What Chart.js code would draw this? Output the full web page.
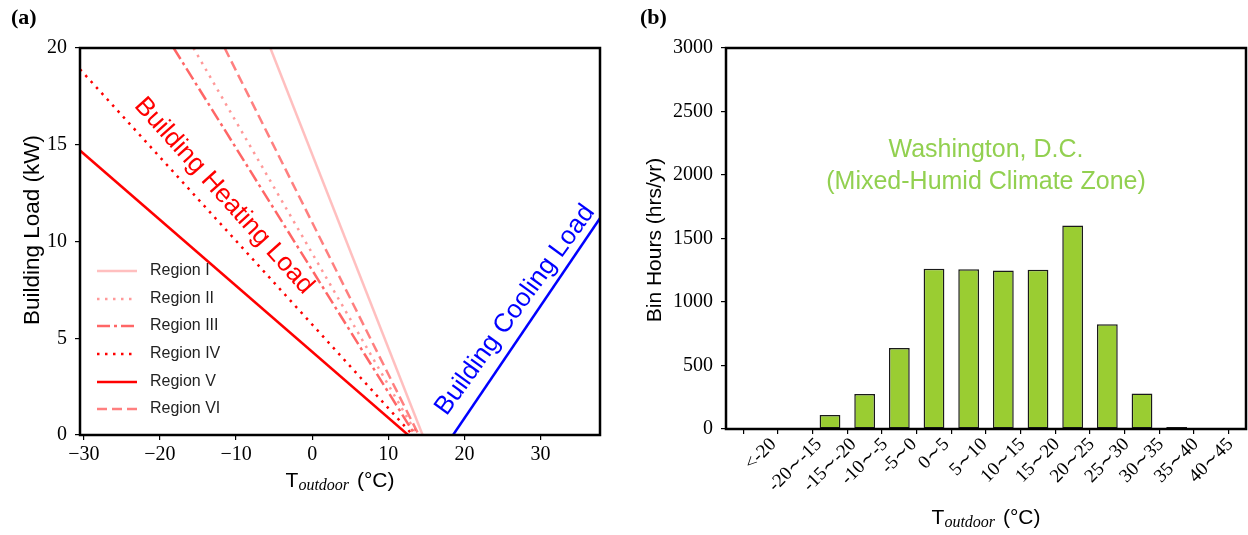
<!DOCTYPE html>
<html>
<head>
<meta charset="utf-8">
<script src="https://cdn.jsdelivr.net/npm/chart.js@4.4.1/dist/chart.umd.min.js"></script>
<style>
html,body{margin:0;padding:0;background:#fff;}
#wrap{position:relative;width:1248px;height:535px;overflow:hidden;}
canvas{position:absolute;top:0;}
</style>
</head>
<body>
<div id="wrap">
<canvas id="left" width="624" height="535" style="left:0;width:624px;height:535px"></canvas>
<canvas id="right" width="624" height="535" style="left:624px;width:624px;height:535px"></canvas>
</div>
<script>
// panel (a): building load lines
const regionNames = ['Region I', 'Region II', 'Region III', 'Region IV', 'Region V', 'Region VI'];
const regionX = [[-5.5, 14.5], [-15.6, 13.8], [-18.2, 13.5], [-30.5, 13.2], [-30.5, 12.6], [-11.5, 14.0]];
const regionY = [[20, 0], [20, 0], [20, 0], [18.9, 0], [14.7, 0], [20, 0]];
const coolingX = [18.5, 37.8];
const coolingY = [0, 11.2];
const loadXTicks = [-30, -20, -10, 0, 10, 20, 30];
const loadYTicks = [0, 5, 10, 15, 20];

// panel (b): bin hours
const binLabels = ['<-20', '-20∼-15', '-15∼-20', '-10∼-5', '-5∼0', '0∼5', '5∼10', '10∼15', '15∼20', '20∼25', '25∼30', '30∼35', '35∼40', '40∼45'];
const binHours = [0, 0, 110, 275, 638, 1262, 1258, 1248, 1253, 1602, 824, 280, 16, 0];
const hoursYTicks = [0, 500, 1000, 1500, 2000, 2500, 3000];

// line styles for the regions (same order as regionNames)
const regionStyles = [
  {color: 'rgba(255,0,0,0.25)', dash: []},
  {color: 'rgba(255,0,0,0.4)', dash: [2.5, 5.5]},
  {color: 'rgba(255,0,0,0.6)', dash: [13, 4, 3, 4]},
  {color: 'rgba(255,0,0,1)', dash: [2.5, 5.5]},
  {color: 'rgba(255,0,0,1)', dash: []},
  {color: 'rgba(255,0,0,0.5)', dash: [10, 5]}
];

const SERIF = '"Liberation Serif", "DejaVu Serif", serif';
const SANS = '"Liberation Sans", Arial, sans-serif';

const framePlugin = {
  id: 'frame',
  afterDatasetsDraw(chart) {
    const {ctx, chartArea: a} = chart;
    ctx.save();
    ctx.strokeStyle = '#000';
    ctx.lineWidth = 2.5;
    ctx.strokeRect(a.left, a.top, a.right - a.left, a.bottom - a.top);
    ctx.restore();
  }
};

function drawTLabel(ctx, cx, cy) {
  ctx.save();
  ctx.fillStyle = '#000';
  ctx.textBaseline = 'middle';
  ctx.textAlign = 'left';
  const fT = '21px ' + SANS, fSub = 'italic 16px ' + SERIF;
  ctx.font = fT; const wT = ctx.measureText('T').width;
  ctx.font = fSub; const wS = ctx.measureText('outdoor').width;
  ctx.font = fT; const wR = ctx.measureText(' (°C)').width;
  let x = cx - (wT + wS + 2 + wR) / 2;
  ctx.font = fT; ctx.fillText('T', x, cy); x += wT;
  ctx.font = fSub; ctx.fillText('outdoor', x, cy + 5); x += wS + 2;
  ctx.font = fT; ctx.fillText(' (°C)', x, cy);
  ctx.restore();
}

function drawVLabel(ctx, text, size, cx, cy) {
  ctx.save();
  ctx.translate(cx, cy);
  ctx.rotate(-Math.PI / 2);
  ctx.font = size + 'px ' + SANS;
  ctx.fillStyle = '#000';
  ctx.textAlign = 'center';
  ctx.textBaseline = 'middle';
  ctx.fillText(text, 0, 0);
  ctx.restore();
}

function drawPanelTag(ctx, text, x, y) {
  ctx.save();
  ctx.font = 'bold 22px ' + SERIF;
  ctx.fillStyle = '#000';
  ctx.textBaseline = 'middle';
  ctx.fillText(text, x, y);
  ctx.restore();
}

function drawSlanted(ctx, text, color, cx, cy, deg) {
  ctx.save();
  ctx.font = '26px ' + SANS;
  ctx.textAlign = 'center';
  ctx.textBaseline = 'middle';
  ctx.translate(cx, cy);
  ctx.rotate(deg * Math.PI / 180);
  ctx.fillStyle = color;
  ctx.fillText(text, 0, 0);
  ctx.restore();
}

const loadDecor = {
  id: 'loadDecor',
  afterDraw(chart) {
    const {ctx, chartArea: a} = chart;
    // legend
    ctx.save();
    const rows = [271, 299, 326, 354, 382, 409];
    chart.data.datasets.slice(0, regionNames.length).forEach((ds, i) => {
      ctx.strokeStyle = ds.borderColor;
      ctx.lineWidth = ds.borderWidth;
      ctx.setLineDash(ds.borderDash);
      ctx.beginPath();
      ctx.moveTo(97, rows[i]);
      ctx.lineTo(137, rows[i]);
      ctx.stroke();
      ctx.setLineDash([]);
      ctx.fillStyle = '#222';
      ctx.font = '16px ' + SANS;
      ctx.textBaseline = 'middle';
      ctx.fillText(ds.label, 150, rows[i]);
    });
    ctx.restore();
    drawSlanted(ctx, 'Building Heating Load', '#ff0000', 224, 196, 48);
    drawSlanted(ctx, 'Building Cooling Load', '#0000ff', 515, 310, -54);
    drawVLabel(ctx, 'Building Load (kW)', 22.5, 33, 230);
    drawTLabel(ctx, (a.left + a.right) / 2, 481);
    drawPanelTag(ctx, '(a)', 11, 18);
  }
};

const hoursDecor = {
  id: 'hoursDecor',
  afterDraw(chart) {
    const {ctx, chartArea: a} = chart;
    const xs = chart.scales.x;
    // rotated category labels, centred on each tick like matplotlib
    ctx.save();
    ctx.font = '19px ' + SERIF;
    ctx.fillStyle = '#000';
    ctx.textAlign = 'center';
    ctx.textBaseline = 'middle';
    binLabels.forEach((lab, i) => {
      const w = ctx.measureText(lab).width;
      const h = 13;
      const px = xs.getPixelForValue(i);
      const py = a.bottom + 8 + (w + h) * Math.SQRT1_2 / 2;
      ctx.save();
      ctx.translate(px, py);
      ctx.rotate(-Math.PI / 4);
      ctx.fillText(lab, 0, 0);
      ctx.restore();
    });
    ctx.restore();
    // location note
    ctx.save();
    ctx.font = '25px ' + SANS;
    ctx.fillStyle = '#92d050';
    ctx.textAlign = 'center';
    ctx.textBaseline = 'middle';
    const cx = (a.left + a.right) / 2;
    ctx.fillText('Washington, D.C.', cx, 150);
    ctx.fillText('(Mixed-Humid Climate Zone)', cx, 182);
    ctx.restore();
    drawVLabel(ctx, 'Bin Hours (hrs/yr)', 21, 31, 240);
    drawTLabel(ctx, cx, 518);
    drawPanelTag(ctx, '(b)', 16, 18);
  }
};

const tickFont = {family: SERIF, size: 20};
const axisGrid = {drawOnChartArea: false, drawTicks: true, tickLength: 5, color: '#000', lineWidth: 1.2};

const loadSets = regionNames.map((name, i) => ({
  label: name,
  data: regionX[i].map((x, j) => ({x: x, y: regionY[i][j]})),
  borderColor: regionStyles[i].color,
  borderDash: regionStyles[i].dash,
  borderWidth: 2.5,
  pointRadius: 0,
  fill: false
}));
loadSets.push({
  label: 'Cooling',
  data: coolingX.map((x, j) => ({x: x, y: coolingY[j]})),
  borderColor: '#0000ff',
  borderDash: [],
  borderWidth: 2.5,
  pointRadius: 0,
  fill: false
});

new Chart(document.getElementById('left'), {
  type: 'line',
  data: {datasets: loadSets},
  options: {
    responsive: false,
    animation: false,
    devicePixelRatio: 1,
    layout: {padding: {top: 48, right: 24, left: 0, bottom: 0}},
    plugins: {legend: {display: false}, tooltip: {enabled: false}},
    elements: {line: {tension: 0, borderCapStyle: 'butt'}},
    scales: {
      x: {
        type: 'linear', min: -30.5, max: 37.8,
        afterFit(s) { s.height = 100; },
        afterBuildTicks(s) { s.ticks = loadXTicks.map(v => ({value: v})); },
        grid: axisGrid,
        border: {display: false},
        ticks: {font: tickFont, color: '#000', padding: 3, maxRotation: 0, callback: v => String(v).replace('-', '\u2212')}
      },
      y: {
        min: 0, max: 20,
        afterFit(s) { s.width = 80; },
        afterBuildTicks(s) { s.ticks = loadYTicks.map(v => ({value: v})); },
        grid: axisGrid,
        border: {display: false},
        ticks: {font: tickFont, color: '#000', padding: 8, callback: v => String(v)}
      }
    }
  },
  plugins: [framePlugin, loadDecor]
});

new Chart(document.getElementById('right'), {
  type: 'bar',
  data: {
    datasets: [{
      label: 'Bin Hours',
      data: binHours.map((v, i) => ({x: i, y: v})),
      backgroundColor: '#9acd32',
      borderColor: '#1a1a1a',
      borderWidth: 1.5,
      borderSkipped: false,
      barPercentage: 0.6,
      categoryPercentage: 1
    }]
  },
  options: {
    responsive: false,
    animation: false,
    devicePixelRatio: 1,
    layout: {padding: {top: 48, right: 2, left: 0, bottom: 0}},
    plugins: {legend: {display: false}, tooltip: {enabled: false}},
    scales: {
      x: {
        type: 'linear', min: -1, max: 14, offset: false,
        afterFit(s) { s.height = 106; },
        afterBuildTicks(s) { s.ticks = binLabels.map((_, i) => ({value: i})); },
        grid: axisGrid,
        border: {display: false},
        ticks: {display: false}
      },
      y: {
        min: 0, max: 3000,
        afterFit(s) { s.width = 102; },
        afterBuildTicks(s) { s.ticks = hoursYTicks.map(v => ({value: v})); },
        grid: axisGrid,
        border: {display: false},
        ticks: {font: tickFont, color: '#000', padding: 8, callback: v => String(v)}
      }
    }
  },
  plugins: [framePlugin, hoursDecor]
});
</script>
</body>
</html>
